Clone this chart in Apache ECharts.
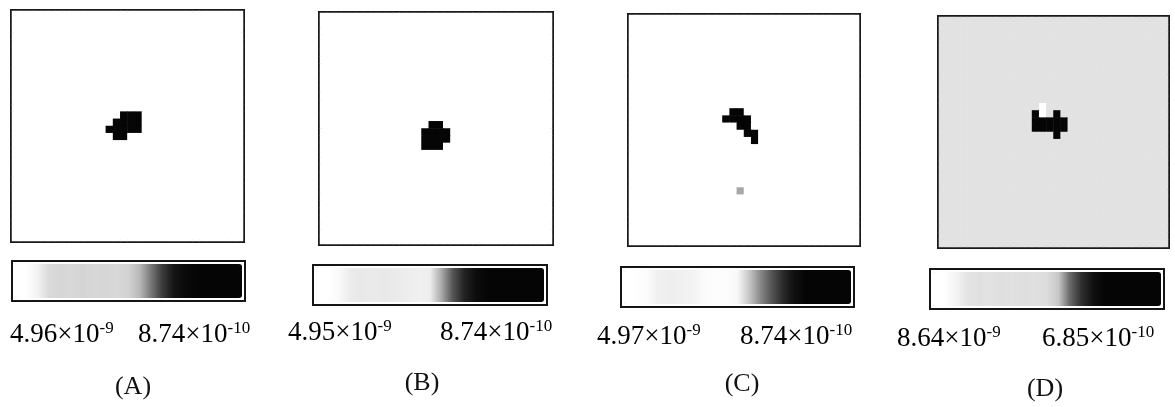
<!DOCTYPE html>
<html><head><meta charset="utf-8">
<script src="https://cdn.jsdelivr.net/npm/echarts@6/dist/echarts.min.js"></script>
<style>html,body{margin:0;padding:0;background:#fff}#c{width:1175px;height:407px}</style>
</head><body><div id="c"></div><script>
// ---------- DATA ----------
const gridSize = 32;
const panelNames = ['(A)', '(B)', '(C)', '(D)'];
const maxValues = [4.96e-9, 4.95e-9, 4.97e-9, 8.64e-9];
const minValues = [8.74e-10, 8.74e-10, 8.74e-10, 6.85e-10];
const maxMantissa = ['4.96', '4.95', '4.97', '8.64'];
const maxExponent = ['-9', '-9', '-9', '-9'];
const minMantissa = ['8.74', '8.74', '8.74', '6.85'];
const minExponent = ['-10', '-10', '-10', '-10'];
const backgroundValues = [4.96e-9, 4.95e-9, 4.97e-9, 6.6e-9];
// [column, row, value]
const cellsA = [
  [15,14,8.74e-10],[16,14,8.74e-10],[17,14,8.74e-10],
  [14,15,8.74e-10],[15,15,8.74e-10],[16,15,8.74e-10],[17,15,8.74e-10],
  [13,16,8.74e-10],[14,16,8.74e-10],[15,16,8.74e-10],[16,16,8.74e-10],[17,16,8.74e-10],
  [14,17,8.74e-10],[15,17,8.74e-10]
];
const cellsB = [
  [15,15,8.74e-10],[16,15,8.74e-10],
  [14,16,8.74e-10],[15,16,8.74e-10],[16,16,8.74e-10],[17,16,8.74e-10],
  [14,17,8.74e-10],[15,17,8.74e-10],[16,17,8.74e-10],[17,17,8.74e-10],
  [14,18,8.74e-10],[15,18,8.74e-10],[16,18,8.74e-10]
];
const cellsC = [
  [14,13,8.74e-10],[15,13,8.74e-10],
  [13,14,8.74e-10],[14,14,8.74e-10],[15,14,8.74e-10],[16,14,8.74e-10],
  [15,15,8.74e-10],[16,15,8.74e-10],
  [16,16,8.74e-10],[17,16,8.74e-10],
  [17,17,8.74e-10],
  [15,24,2.61e-9]
];
const cellsD = [
  [14,12,8.64e-9],
  [13,13,6.85e-10],[14,13,8.3e-9],[16,13,6.85e-10],
  [13,14,6.85e-10],[14,14,6.85e-10],[15,14,6.85e-10],[16,14,6.85e-10],[17,14,6.85e-10],
  [13,15,6.85e-10],[14,15,6.85e-10],[15,15,6.85e-10],[16,15,6.85e-10],[17,15,6.85e-10],
  [16,16,6.85e-10]
];
const panelCells = [cellsA, cellsB, cellsC, cellsD];

// ---------- STYLE / LAYOUT ----------
const colorbarStops = [ // left (max) -> right (min), every 5%
  ['#fff','#fff','#f2f2f2','#dadada','#d6d6d6','#d8d8d8','#d4d4d4','#d8d8d8','#d6d6d6','#d8d8d8','#d2d2d2','#b8b8b8','#777','#3a3a3a','#151515','#0a0a0a','#050505','#050505','#050505','#050505','#050505'],
  ['#fff','#fff','#fafafa','#ececec','#e8e8e8','#ebebeb','#e8e8e8','#ebebeb','#ededed','#f0f0f0','#eeeeee','#aaa','#555','#222','#0d0d0d','#050505','#050505','#050505','#050505','#050505','#050505'],
  ['#fff','#fff','#fbfbfb','#f0f0f0','#eeeeee','#f0f0f0','#f2f2f2','#fafafa','#fdfdfd','#fdfdfd','#f8f8f8','#c8c8c8','#8a8a8a','#555','#2a2a2a','#101010','#050505','#050505','#050505','#050505','#050505'],
  ['#fff','#fff','#f4f4f4','#e4e4e4','#e0e0e0','#e2e2e2','#dfdfdf','#e1e1e1','#dedede','#e0e0e0','#dcdcdc','#c8c8c8','#6a6a6a','#303030','#121212','#050505','#050505','#050505','#050505','#050505','#050505']
];
const gridBoxes = [
  {left:12, top:11, width:231, height:230},
  {left:320, top:13, width:232, height:231},
  {left:629, top:15, width:230, height:230},
  {left:939, top:17, width:229, height:230}
];
const barBoxes = [
  {left:11, top:260, len:227},
  {left:312, top:264, len:228},
  {left:620, top:266, len:227},
  {left:929, top:268, len:228}
];
const labelPos = [
  {lx:10, rx:138, y:320, cx:133, cy:387},
  {lx:288, rx:440, y:318, cx:422, cy:383},
  {lx:597, rx:740, y:322, cx:742, cy:384},
  {lx:897, rx:1042, y:324, cx:1045, cy:389}
];

const cellIndex = Array.from({length: gridSize}, (_, i) => String(i));
function buildGrid(bg, cells) {
  const m = new Map();
  cells.forEach(c => m.set(c[0] + ',' + c[1], c[2]));
  const out = [];
  for (let r = 0; r < gridSize; r++)
    for (let c = 0; c < gridSize; c++) {
      const k = c + ',' + r;
      out.push([c, r, m.has(k) ? m.get(k) : bg]);
    }
  return out;
}

const grid = [], xAxis = [], yAxis = [], series = [], visualMap = [], graphic = [];
const rich = {
  b: {fontFamily: 'Liberation Serif', fontSize: 27, lineHeight: 30, color: '#111'},
  s: {fontFamily: 'Liberation Serif', fontSize: 17, lineHeight: 17, verticalAlign: 'top', color: '#111'}
};
for (let i = 0; i < 4; i++) {
  const g = gridBoxes[i];
  grid.push({left: g.left, top: g.top, width: g.width, height: g.height, show: true,
    borderColor: '#1a1a1a', borderWidth: 4, backgroundColor: 'transparent'});
  xAxis.push({type: 'category', gridIndex: i, data: cellIndex, show: false});
  yAxis.push({type: 'category', gridIndex: i, data: cellIndex, show: false, inverse: true});
  series.push({type: 'heatmap', xAxisIndex: i, yAxisIndex: i,
    data: buildGrid(backgroundValues[i], panelCells[i]),
    emphasis: {disabled: true}, progressive: 0, silent: true});
  const b = barBoxes[i];
  visualMap.push({type: 'continuous', seriesIndex: i, min: minValues[i], max: maxValues[i],
    orient: 'horizontal', inverse: true, left: b.left, top: b.top,
    itemWidth: 34, itemHeight: b.len, calculable: false, hoverLink: false,
    inRange: {color: colorbarStops[i].slice().reverse()},
    borderColor: '#151515', borderWidth: 2, padding: 3, backgroundColor: '#fff'});
  const p = labelPos[i];
  graphic.push({type: 'text', x: p.lx, y: p.y, style: {
    text: '{b|' + maxMantissa[i] + '×10}{s|' + maxExponent[i] + '}', rich: rich,
    textAlign: 'left', textVerticalAlign: 'top'}});
  graphic.push({type: 'text', x: p.rx, y: p.y, style: {
    text: '{b|' + minMantissa[i] + '×10}{s|' + minExponent[i] + '}', rich: rich,
    textAlign: 'left', textVerticalAlign: 'top'}});
  graphic.push({type: 'text', x: p.cx, y: p.cy, style: {
    text: panelNames[i], fontFamily: 'Liberation Serif', fontSize: 26, fill: '#111',
    textAlign: 'center', textVerticalAlign: 'middle'}});
}

const chart = echarts.init(document.getElementById('c'), null, {renderer: 'canvas'});
chart.setOption({animation: false, backgroundColor: '#fff', grid, xAxis, yAxis, series, visualMap, graphic});
</script></body></html>
